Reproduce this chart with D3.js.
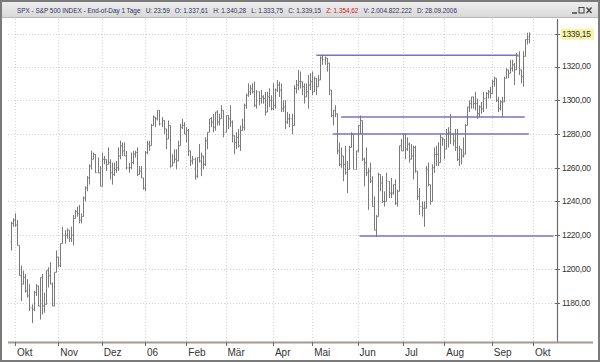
<!DOCTYPE html>
<html>
<head>
<meta charset="utf-8">
<script src="https://cdn.jsdelivr.net/npm/d3@7"></script>
<style>
  body { margin: 0; background: #fff; }
  svg text { font-family: "Liberation Sans", Arial, sans-serif; }
</style>
</head>
<body>
<svg id="chart" width="600" height="362"></svg>
<script>
// daily bars, one array per month: [open, high, low, close]
const sep05 = [[1216,1228,1211,1227],[1227,1230,1225,1229]];
const oct05 = [[1229,1233,1225,1226],[1226,1229,1214,1214],[1214,1214,1196,1196],[1196,1202,1181,1191],[1191,1199,1191,1195],
  [1195,1197,1186,1187],[1187,1194,1183,1184],[1184,1191,1175,1177],[1177,1179,1168,1176],[1176,1187,1175,1186],
  [1186,1191,1184,1190],[1190,1190,1178,1178],[1178,1195,1170,1195],[1195,1197,1173,1178],[1178,1186,1174,1179],
  [1179,1199,1179,1199],[1199,1201,1189,1196],[1196,1204,1191,1191],[1191,1192,1178,1178],[1178,1198,1178,1198],[1198,1211,1198,1207]];
const nov05 = [[1207,1207,1201,1202],[1202,1215,1201,1215],[1215,1225,1215,1220],[1220,1223,1215,1220],[1220,1224,1218,1223],
  [1223,1223,1216,1218],[1218,1225,1216,1220],[1220,1232,1214,1230],[1230,1235,1230,1234],[1234,1237,1231,1233],
  [1233,1238,1227,1229],[1229,1233,1227,1231],[1231,1243,1231,1242],[1242,1249,1240,1248],[1248,1255,1246,1254],
  [1254,1262,1250,1261],[1261,1270,1259,1265],[1265,1269,1265,1268],[1268,1268,1257,1257],[1257,1266,1257,1257],[1257,1261,1249,1249]];
const dec05 = [[1249,1269,1249,1265],[1265,1267,1262,1265],[1265,1265,1258,1262],[1262,1272,1262,1263],[1263,1265,1253,1257],
  [1257,1263,1250,1256],[1256,1263,1255,1259],[1259,1264,1257,1260],[1260,1272,1258,1267],[1267,1276,1265,1273],
  [1273,1275,1267,1270],[1270,1275,1267,1267],[1267,1270,1259,1260],[1260,1263,1257,1260],[1260,1269,1259,1263],
  [1263,1270,1262,1268],[1268,1270,1266,1269],[1269,1272,1255,1256],[1256,1261,1256,1258],[1258,1261,1254,1254],[1254,1254,1247,1248]];
const jan06 = [[1248,1270,1246,1269],[1269,1276,1268,1274],[1274,1276,1270,1273],[1273,1286,1273,1285],[1285,1291,1285,1290],
  [1290,1290,1284,1289],[1289,1294,1288,1294],[1294,1294,1285,1286],[1286,1290,1284,1288],[1288,1288,1280,1283],
  [1283,1283,1271,1277],[1277,1288,1277,1285],[1285,1285,1260,1261],[1261,1268,1261,1263],[1263,1271,1263,1265],
  [1265,1271,1259,1264],[1264,1276,1264,1273],[1273,1286,1273,1284],[1284,1289,1283,1285],[1285,1287,1280,1280]];
const feb06 = [[1280,1284,1275,1282],[1282,1283,1267,1270],[1270,1270,1261,1264],[1264,1267,1262,1265],[1265,1266,1253,1255],
  [1255,1266,1254,1266],[1266,1274,1263,1264],[1264,1269,1255,1267],[1267,1267,1259,1262],[1262,1278,1261,1276],
  [1276,1281,1271,1281],[1281,1289,1281,1289],[1289,1290,1284,1287],[1287,1292,1281,1284],[1284,1293,1282,1293],
  [1293,1294,1285,1287],[1287,1292,1285,1289],[1289,1297,1289,1294],[1294,1294,1278,1281]];
const mar06 = [[1281,1291,1281,1291],[1291,1291,1283,1289],[1289,1297,1284,1287],[1287,1288,1275,1279],[1279,1279,1268,1275],
  [1275,1281,1271,1278],[1278,1283,1272,1273],[1273,1285,1270,1282],[1282,1289,1282,1284],[1284,1298,1282,1297],
  [1297,1304,1295,1303],[1303,1310,1302,1305],[1305,1309,1303,1307],[1307,1310,1304,1305],[1305,1311,1296,1297],
  [1297,1306,1295,1305],[1305,1305,1297,1301],[1301,1306,1298,1302],[1302,1303,1298,1301],[1301,1305,1291,1293],
  [1293,1305,1293,1302],[1302,1307,1296,1300],[1300,1303,1294,1295]];
const apr06 = [[1295,1310,1294,1297],[1297,1307,1295,1306],[1306,1312,1305,1309],[1309,1311,1302,1306],[1306,1310,1293,1295],
  [1295,1300,1293,1296],[1296,1300,1283,1287],[1287,1293,1286,1289],[1289,1292,1284,1289],[1289,1292,1280,1285],
  [1285,1309,1285,1307],[1307,1312,1304,1309],[1309,1318,1306,1311],[1311,1317,1307,1311],[1311,1311,1303,1308],
  [1308,1310,1298,1302],[1302,1310,1302,1305],[1305,1315,1295,1309],[1309,1316,1306,1311]];
const may06 = [[1311,1317,1303,1305],[1305,1314,1305,1313],[1313,1313,1303,1308],[1308,1315,1308,1312],[1312,1326,1312,1325],
  [1325,1327,1321,1324],[1324,1326,1321,1325],[1325,1325,1317,1322],[1322,1322,1303,1306],[1306,1306,1290,1291],
  [1291,1294,1285,1294],[1294,1297,1290,1292],[1292,1292,1268,1270],[1270,1275,1261,1262],[1262,1272,1260,1267],
  [1267,1267,1252,1262],[1262,1273,1256,1257],[1257,1264,1245,1259],[1259,1273,1259,1272],[1272,1281,1272,1280],
  [1280,1280,1259,1259],[1259,1270,1259,1270]];
const jun06 = [[1270,1285,1269,1285],[1285,1291,1280,1288],[1288,1288,1264,1265],[1265,1266,1249,1263],[1263,1272,1255,1257],
  [1257,1260,1235,1258],[1258,1263,1251,1252],[1252,1255,1237,1237],[1237,1243,1223,1223],[1223,1232,1219,1231],
  [1231,1257,1231,1256],[1256,1256,1246,1251],[1251,1255,1239,1240],[1240,1246,1237,1240],[1240,1257,1240,1252],
  [1252,1252,1242,1245],[1245,1254,1242,1245],[1245,1250,1244,1250],[1250,1253,1238,1239],[1239,1247,1237,1246],
  [1246,1273,1246,1273],[1273,1277,1270,1270]];
const jul06 = [[1270,1280,1270,1280],[1280,1280,1265,1271],[1271,1278,1270,1274],[1274,1275,1263,1265],[1265,1274,1265,1267],
  [1267,1273,1253,1272],[1272,1273,1257,1258],[1258,1258,1241,1243],[1243,1248,1232,1237],[1237,1240,1231,1236],
  [1236,1240,1225,1236],[1236,1261,1236,1259],[1259,1263,1249,1250],[1250,1250,1238,1240],[1240,1262,1240,1260],
  [1260,1272,1257,1268],[1268,1273,1261,1268],[1268,1275,1261,1263],[1263,1280,1263,1278],[1278,1278,1273,1277]];
const aug06 = [[1277,1277,1265,1271],[1271,1283,1271,1280],[1280,1284,1272,1281],[1281,1292,1274,1280],[1280,1280,1273,1276],
  [1276,1283,1270,1272],[1272,1283,1264,1265],[1265,1273,1261,1271],[1271,1271,1262,1267],[1267,1278,1266,1268],
  [1268,1286,1268,1285],[1285,1296,1285,1296],[1296,1300,1293,1298],[1298,1302,1295,1302],[1302,1302,1295,1298],
  [1298,1305,1294,1298],[1298,1301,1289,1292],[1292,1297,1290,1296],[1296,1299,1292,1295],[1295,1305,1293,1301],
  [1301,1305,1295,1304],[1304,1306,1301,1305],[1305,1308,1301,1304]];
const sep06 = [[1304,1312,1304,1311],[1311,1314,1308,1313],[1313,1313,1299,1300],[1300,1302,1293,1295],[1295,1300,1294,1299],
  [1299,1302,1290,1299],[1299,1314,1299,1313],[1313,1319,1313,1318],[1318,1318,1313,1316],[1316,1324,1316,1319],
  [1319,1324,1317,1321],[1321,1322,1309,1318],[1318,1328,1318,1326],[1326,1329,1315,1318],[1318,1318,1310,1314],
  [1314,1329,1308,1326],[1326,1336,1326,1336],[1336,1340,1333,1336],[1337.61,1340.28,1333.75,1339.15]];

const monthBars = [sep05, oct05, nov05, dec05, jan06, feb06, mar06, apr06, may06, jun06, jul06, aug06, sep06];
// trading days per month (Sep 05 partial), month ticks sit at the start of each following month
const tradingDays = [2, 21, 21, 21, 20, 19, 23, 19, 22, 22, 20, 23, 20];
const monthLabels = ["Okt", "Nov", "Dez", "06", "Feb", "Mär", "Apr", "Mai", "Jun", "Jul", "Aug", "Sep", "Okt"];
const yTicks = [1180, 1200, 1220, 1240, 1260, 1280, 1300, 1320];
const lastClose = 1339.15;
// drawn support / resistance lines: value, first and last day index
const levels = [
  {v: 1326.7, from: 148, to: 246},
  {v: 1290.0, from: 160, to: 249},
  {v: 1280.0, from: 156, to: 251},
  {v: 1219.5, from: 169, to: 263}
];
const titleParts = ["SPX - S&P 500 INDEX - End-of-Day 1 Tage", "U: 23:59", "O: 1.337,61", "H: 1.340,28",
  "L: 1.333,75", "C: 1.339,15", "Z: 1.354,62", "V: 2.004.822.222", "D: 28.09.2006"];

const svg = d3.select("#chart");
const bars = monthBars.flat().map((d, i) => ({i: i, o: d[0], h: d[1], l: d[2], c: d[3]}));
const tickIdx = d3.cumsum(tradingDays).slice(0, 13);

const plotL = 8, plotR = 557, plotT = 19, plotB = 342;

// x: trading day index
const x = d3.scaleLinear().domain([2, 253]).range([15, 533]);
const y = d3.scaleLinear().domain([1180, 1320]).range([302.7, 66.5]);

const fmt = d3.formatLocale({decimal: ",", thousands: ".", grouping: [3], currency: ["", ""]}).format(".2f");

// window frame and title bar
const grad = svg.append("defs").append("linearGradient").attr("id", "tb").attr("x1", 0).attr("x2", 0).attr("y1", 0).attr("y2", 1);
grad.append("stop").attr("offset", 0).attr("stop-color", "#ededed");
grad.append("stop").attr("offset", 1).attr("stop-color", "#d9d9d9");
svg.append("rect").attr("x", 0).attr("y", 0).attr("width", 600).attr("height", 362).attr("fill", "#fff");
svg.append("rect").attr("x", 2).attr("y", 2).attr("width", 596).attr("height", 15).attr("fill", "url(#tb)");
svg.append("line").attr("x1", 2).attr("x2", 598).attr("y1", 17.5).attr("y2", 17.5).attr("stroke", "#b8b8b8");

// title: one font size, laid out left to right between x=17 and x=457
const gap = 5;
const tt = svg.append("g").selectAll("text").data(titleParts).join("text")
  .attr("y", 12.5).attr("font-size", 7)
  .attr("fill", d => d.startsWith("Z") ? "#d02020" : "#303060")
  .text(d => d);
const lens = tt.nodes().map(n => n.getComputedTextLength());
const k = (457 - 17 - gap * (titleParts.length - 1)) / d3.sum(lens);
let tx = 17;
tt.attr("font-size", 7 * k).each(function(d, i) {
  d3.select(this).attr("x", tx);
  tx += lens[i] * k + gap;
});

// window buttons
const btn = svg.append("g").attr("stroke", "#444").attr("fill", "none");
btn.append("line").attr("x1", 572).attr("x2", 577).attr("y1", 13).attr("y2", 13).attr("stroke-width", 1.5);
btn.append("rect").attr("x", 579).attr("y", 7.5).attr("width", 5).attr("height", 5.5);
btn.append("path").attr("d", "M586.5,7.5L591.5,13M591.5,7.5L586.5,13").attr("stroke-width", 1.3);

// grid
const grid = svg.append("g").attr("stroke", "#d4d4d4").attr("stroke-dasharray", "1,2");
grid.selectAll(".gy").data(yTicks.concat([lastClose])).join("line")
  .attr("x1", plotL).attr("x2", plotR).attr("y1", d => Math.round(y(d)) + 0.5).attr("y2", d => Math.round(y(d)) + 0.5);
grid.selectAll(".gx").data(tickIdx).join("line")
  .attr("x1", d => Math.round(x(d)) + 0.5).attr("x2", d => Math.round(x(d)) + 0.5).attr("y1", plotT).attr("y2", plotB);

// level lines
svg.append("g").selectAll("line").data(levels).join("line")
  .attr("x1", d => x(d.from)).attr("x2", d => x(d.to))
  .attr("y1", d => y(d.v)).attr("y2", d => y(d.v))
  .attr("stroke", "#7b72c4").attr("stroke-width", 1.5);

// OHLC bars
const barG = svg.append("g").attr("stroke", "#7a7a7a").attr("stroke-width", 1).attr("fill", "none");
barG.selectAll("path").data(bars).join("path")
  .attr("d", d => {
    const cx = Math.round(x(d.i)) + 0.5;
    return `M${cx},${y(d.h)}V${y(d.l)}M${cx - 1},${y(d.o)}H${cx}M${cx},${y(d.c)}H${cx + 1}`;
  });

// y axis on the right
svg.append("line").attr("x1", plotR + 0.5).attr("x2", plotR + 0.5).attr("y1", plotT).attr("y2", plotB)
  .attr("stroke", "#6a6a6a").attr("stroke-width", 1.2);
const yAx = svg.append("g");
yAx.selectAll("line").data(yTicks.concat([lastClose])).join("line")
  .attr("x1", plotR - 2).attr("x2", plotR + 3)
  .attr("y1", d => Math.round(y(d)) + 0.5).attr("y2", d => Math.round(y(d)) + 0.5)
  .attr("stroke", "#6a6a6a");
yAx.append("rect").attr("x", plotR + 4).attr("y", y(lastClose) - 5.5).attr("width", 33).attr("height", 11)
  .attr("fill", "#f8f3a6");
yAx.selectAll("text").data(yTicks.concat([lastClose])).join("text")
  .attr("x", plotR + 5).attr("y", d => y(d)).attr("dy", "0.35em")
  .attr("font-size", 8.5).attr("letter-spacing", -0.3).attr("fill", "#333")
  .text(d => fmt(d));

// x axis
svg.append("line").attr("x1", plotL).attr("x2", 593).attr("y1", plotB + 0.5).attr("y2", plotB + 0.5)
  .attr("stroke", "#a39a90").attr("stroke-width", 1.8);
const xAx = svg.append("g");
xAx.selectAll("line").data(tickIdx).join("line")
  .attr("x1", d => Math.round(x(d)) + 0.5).attr("x2", d => Math.round(x(d)) + 0.5)
  .attr("y1", plotB).attr("y2", plotB + 4)
  .attr("stroke", "#6a6a6a");
xAx.selectAll("text").data(tickIdx).join("text")
  .attr("x", d => x(d) + 2).attr("y", 356)
  .attr("font-size", 10).attr("fill", "#333")
  .text((d, i) => monthLabels[i]);

// outer border
svg.append("rect").attr("x", 1).attr("y", 1).attr("width", 598).attr("height", 360)
  .attr("fill", "none").attr("stroke", "#7a7a7a").attr("stroke-width", 2);
</script>
</body>
</html>
